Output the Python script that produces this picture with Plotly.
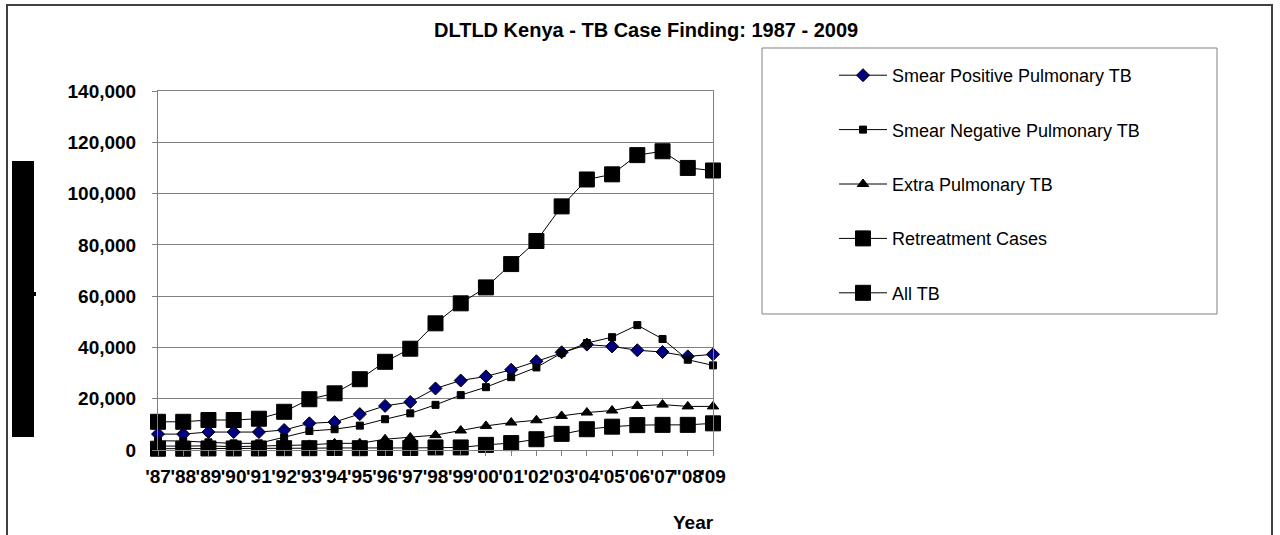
import plotly.graph_objects as go

# --- data ---
years = ["'87", "'88", "'89", "'90", "'91", "'92", "'93", "'94", "'95", "'96", "'97", "'98",
         "'99", "'00", "'01", "'02", "'03", "'04", "'05", "'06", "'07", '"08', "'09"]

smear_positive = [6200, 6200, 7000, 7000, 7000, 7800, 10400, 10900, 14000, 17200, 18700, 24000,
                  27100, 28700, 31300, 34600, 38100, 41100, 40400, 38900, 38200, 36500, 37300]
smear_negative = [3600, 3500, 3000, 2600, 2600, 4900, 7400, 8100, 9500, 12000, 14300, 17600,
                  21400, 24500, 28400, 32200, 37800, 41700, 44000, 48700, 43300, 35200, 33000]
extra_pulmonary = [1500, 1500, 1600, 1300, 1500, 1600, 2000, 2600, 2600, 4200, 4900, 5800,
                   7600, 9400, 10700, 11600, 13300, 14600, 15400, 17200, 17700, 17000, 17000]
retreatment = [500, 500, 600, 600, 600, 700, 700, 800, 700, 800, 800, 1000,
               1000, 2000, 2700, 4200, 6300, 8100, 9100, 9700, 9800, 9800, 10400]
all_tb = [11000, 11000, 11700, 11700, 12200, 14900, 19800, 22100, 27600, 34400, 39500, 49400,
          57200, 63400, 72500, 81500, 95000, 105500, 107500, 115000, 116500, 110000, 109000]

series = [
    ("Smear Positive Pulmonary TB", smear_positive, "diamond", 10, "#000080"),
    ("Smear Negative Pulmonary TB", smear_negative, "square", 7, "#000000"),
    ("Extra Pulmonary TB", extra_pulmonary, "triangle-up", 10, "#000000"),
    ("Retreatment Cases", retreatment, "square", 15, "#000000"),
    ("All TB", all_tb, "square", 15, "#000000"),
]

W, H = 1280, 535
L, R, T, B = 158, 713, 91, 450


def px(x):
    return (x - L) / (R - L)


def py(y):
    return (B - y) / (B - T)


FONT = "Liberation Sans, Arial, sans-serif"

fig = go.Figure()
for i, (name, vals, sym, size, fill) in enumerate(series):
    fig.add_trace(go.Scatter(
        x=years, y=vals, name=name, mode="lines+markers",
        line=dict(color="#000000", width=1),
        marker=dict(symbol=sym, size=size, color=fill,
                    line=dict(color="#000000", width=1)),
        cliponaxis=False, legendgroup=f"g{i}",
    ))

shapes = [
    # outer chart frame
    dict(type="rect", xref="paper", yref="paper",
         x0=px(7), x1=px(1272), y0=py(560), y1=py(5),
         line=dict(color="#404040", width=2)),
    # legend frame
    dict(type="rect", xref="paper", yref="paper",
         x0=px(762), x1=px(1217), y0=py(314), y1=py(48),
         line=dict(color="#808080", width=1)),
    # blacked-out axis title
    dict(type="rect", xref="paper", yref="paper",
         x0=px(12), x1=px(34), y0=py(437), y1=py(161),
         fillcolor="#000000", line=dict(width=0)),
    dict(type="rect", xref="paper", yref="paper",
         x0=px(34), x1=px(36), y0=py(296), y1=py(292),
         fillcolor="#000000", line=dict(width=0)),
]

annotations = [
    dict(text="<b>DLTLD Kenya - TB Case Finding: 1987 - 2009</b>", xref="paper", yref="paper",
         x=px(646), y=py(30), xanchor="center", yanchor="middle", showarrow=False,
         font=dict(family=FONT, size=20, color="#000000")),
    dict(text="<b>Year</b>", xref="paper", yref="paper",
         x=px(693), y=py(522), xanchor="center", yanchor="middle", showarrow=False,
         font=dict(family=FONT, size=19, color="#000000")),
]

fig.update_layout(
    width=W, height=H,
    margin=dict(l=L, r=W - R, t=T, b=H - B, autoexpand=False),
    plot_bgcolor="#ffffff", paper_bgcolor="#ffffff",
    font=dict(family=FONT, color="#000000"),
    shapes=shapes, annotations=annotations,
    showlegend=True,
    legend=dict(x=px(834), y=py(57), xanchor="left", yanchor="top",
                bgcolor="rgba(0,0,0,0)", borderwidth=0, itemwidth=48,
                font=dict(family=FONT, size=18, color="#000000"),
                tracegroupgap=28, itemclick=False),
    xaxis=dict(type="category", range=[0, len(years) - 1], showgrid=False,
               showline=True, linecolor="#808080", linewidth=1, mirror=True,
               ticks="outside", ticklen=5, tickcolor="#808080", tickangle=0,
               ticklabelstandoff=4,
               tickfont=dict(family=FONT, size=19, color="#000000", weight="bold")),
    yaxis=dict(range=[0, 140000], dtick=20000, tickformat=",", showgrid=True,
               gridcolor="#808080", gridwidth=1, zeroline=False,
               showline=True, linecolor="#808080", linewidth=1, mirror=True,
               ticks="outside", ticklen=5, tickcolor="#808080",
               ticklabelstandoff=12,
               tickfont=dict(family=FONT, size=19, color="#000000", weight="bold")),
)

# browser default body margin would shift the chart by 8px
fig.write_html("out.html", config={"displayModeBar": False},
               post_script="document.body.style.margin='0';")
